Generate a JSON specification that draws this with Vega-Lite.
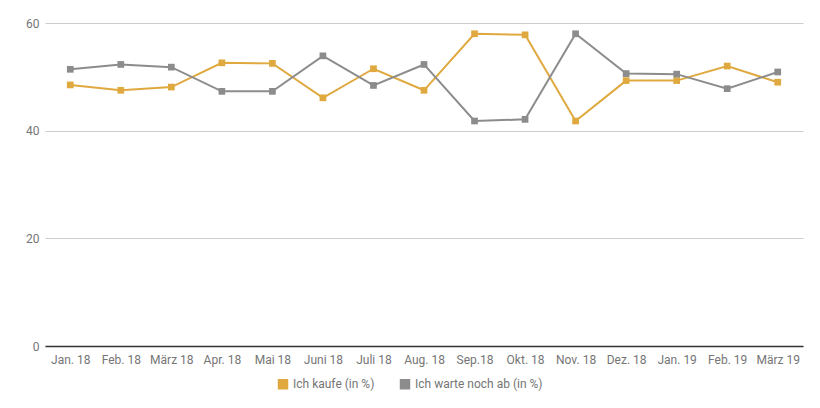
{
  "$schema": "https://vega.github.io/schema/vega-lite/v6.json",
  "autosize": {"type": "none"},
  "width": 758,
  "height": 323,
  "padding": {"left": 45, "top": 23, "right": 17, "bottom": 62},
  "config": {
    "font": "Roboto",
    "view": {"stroke": null},
    "axis": {"labelColor": "#757575", "labelFontSize": 12, "ticks": false, "titleColor": "#757575"}
  },
  "data": {
    "values": [
      {"Monat": "Jan. 18", "Serie": "Ich kaufe (in %)", "Wert": 48.5},
      {"Monat": "Feb. 18", "Serie": "Ich kaufe (in %)", "Wert": 47.5},
      {"Monat": "März 18", "Serie": "Ich kaufe (in %)", "Wert": 48.1},
      {"Monat": "Apr. 18", "Serie": "Ich kaufe (in %)", "Wert": 52.6},
      {"Monat": "Mai 18", "Serie": "Ich kaufe (in %)", "Wert": 52.5},
      {"Monat": "Juni 18", "Serie": "Ich kaufe (in %)", "Wert": 46.1},
      {"Monat": "Juli 18", "Serie": "Ich kaufe (in %)", "Wert": 51.5},
      {"Monat": "Aug. 18", "Serie": "Ich kaufe (in %)", "Wert": 47.5},
      {"Monat": "Sep.18", "Serie": "Ich kaufe (in %)", "Wert": 58.0},
      {"Monat": "Okt. 18", "Serie": "Ich kaufe (in %)", "Wert": 57.8},
      {"Monat": "Nov. 18", "Serie": "Ich kaufe (in %)", "Wert": 41.8},
      {"Monat": "Dez. 18", "Serie": "Ich kaufe (in %)", "Wert": 49.3},
      {"Monat": "Jan. 19", "Serie": "Ich kaufe (in %)", "Wert": 49.3},
      {"Monat": "Feb. 19", "Serie": "Ich kaufe (in %)", "Wert": 52.0},
      {"Monat": "März 19", "Serie": "Ich kaufe (in %)", "Wert": 49.0},
      {"Monat": "Jan. 18", "Serie": "Ich warte noch ab (in %)", "Wert": 51.4},
      {"Monat": "Feb. 18", "Serie": "Ich warte noch ab (in %)", "Wert": 52.3},
      {"Monat": "März 18", "Serie": "Ich warte noch ab (in %)", "Wert": 51.8},
      {"Monat": "Apr. 18", "Serie": "Ich warte noch ab (in %)", "Wert": 47.3},
      {"Monat": "Mai 18", "Serie": "Ich warte noch ab (in %)", "Wert": 47.3},
      {"Monat": "Juni 18", "Serie": "Ich warte noch ab (in %)", "Wert": 53.9},
      {"Monat": "Juli 18", "Serie": "Ich warte noch ab (in %)", "Wert": 48.4},
      {"Monat": "Aug. 18", "Serie": "Ich warte noch ab (in %)", "Wert": 52.3},
      {"Monat": "Sep.18", "Serie": "Ich warte noch ab (in %)", "Wert": 41.8},
      {"Monat": "Okt. 18", "Serie": "Ich warte noch ab (in %)", "Wert": 42.1},
      {"Monat": "Nov. 18", "Serie": "Ich warte noch ab (in %)", "Wert": 58.0},
      {"Monat": "Dez. 18", "Serie": "Ich warte noch ab (in %)", "Wert": 50.6},
      {"Monat": "Jan. 19", "Serie": "Ich warte noch ab (in %)", "Wert": 50.5},
      {"Monat": "Feb. 19", "Serie": "Ich warte noch ab (in %)", "Wert": 47.8},
      {"Monat": "März 19", "Serie": "Ich warte noch ab (in %)", "Wert": 50.9}
    ]
  },
  "encoding": {
    "x": {
      "field": "Monat",
      "type": "ordinal",
      "sort": null,
      "title": null,
      "axis": {"labelAngle": 0, "domainColor": "#333333", "domainWidth": 1.5, "labelPadding": 8}
    },
    "y": {
      "field": "Wert",
      "type": "quantitative",
      "title": null,
      "scale": {"domain": [0, 60]},
      "axis": {"values": [0, 20, 40, 60], "domain": false, "gridColor": "#cccccc", "labelPadding": 6}
    },
    "color": {
      "field": "Serie",
      "type": "nominal",
      "title": null,
      "scale": {"range": ["#e0a940", "#8c8c8c"]},
      "legend": {
        "orient": "none",
        "legendX": 232,
        "legendY": 355,
        "direction": "horizontal",
        "symbolType": "square",
        "symbolSize": 80,
        "labelFontSize": 12,
        "labelColor": "#757575",
        "columnPadding": 22
      }
    }
  },
  "layer": [
    {"mark": {"type": "line", "strokeWidth": 2}},
    {"mark": {"type": "square", "size": 45, "opacity": 1, "filled": true}}
  ]
}
